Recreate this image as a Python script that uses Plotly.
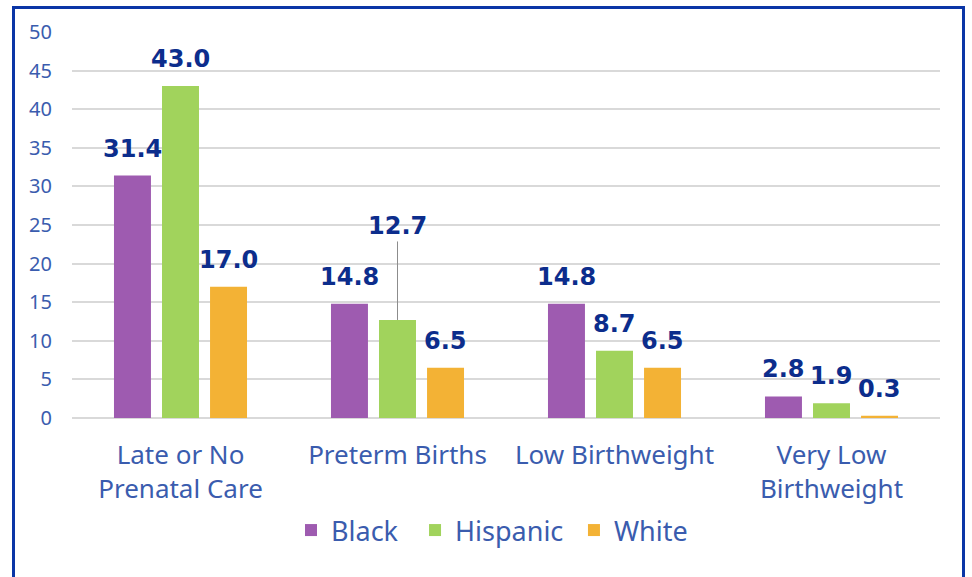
import plotly.graph_objects as go

categories = ["Late or No<br>Prenatal Care", "Preterm Births", "Low Birthweight", "Very Low<br>Birthweight"]
series_names = ["Black", "Hispanic", "White"]
black = [31.4, 14.8, 14.8, 2.8]
hispanic = [43.0, 12.7, 8.7, 1.9]
white = [17.0, 6.5, 6.5, 0.3]
y_ticks = [0, 5, 10, 15, 20, 25, 30, 35, 40, 45, 50]

colors = ["#9e5bb0", "#a1d35c", "#f3b235"]
values = [black, hispanic, white]
label_color = "#0c2d8c"
axis_text = "#3a5cae"
label_font = dict(family="DejaVu Sans, Verdana", size=24, color=label_color)

legend_ids = ["legend", "legend2", "legend3"]
legend_x = [0.2523, 0.3952, 0.5783]

fig = go.Figure()
for name, vals, col, lid in zip(series_names, values, colors, legend_ids):
    fig.add_trace(go.Bar(name=name, x=categories, y=vals, legend=lid,
                         marker=dict(color=col, line=dict(width=0))))

# data labels
shifts = [-48, 0, 48]
for si, vals in enumerate(values):
    for ci, v in enumerate(vals):
        if si == 1 and ci == 1:
            fig.add_annotation(x=categories[ci], y=v, text=f"<b>{v:.1f}</b>", showarrow=True,
                               arrowhead=0, arrowwidth=1, arrowcolor="#8c8c8c",
                               ax=0, ay=-94, xshift=shifts[si], font=label_font)
        else:
            fig.add_annotation(x=categories[ci], y=v, text=f"<b>{v:.1f}</b>", showarrow=False,
                               yanchor="middle", yshift=27, xshift=shifts[si], font=label_font)

# border frame
fig.add_shape(type="rect", xref="paper", yref="paper",
              x0=(13.5 - 72) / 868, x1=(963.5 - 72) / 868,
              y0=-0.6, y1=(418 - 7.5) / 386,
              line=dict(color="#0a35a6", width=3), fillcolor="rgba(0,0,0,0)", layer="above")

legend_common = dict(orientation="h", y=-0.228, yanchor="top", xanchor="left",
                     font=dict(size=27, color=axis_text), itemwidth=30,
                     bgcolor="rgba(0,0,0,0)")

fig.update_layout(
    width=972, height=577,
    margin=dict(l=72, r=32, t=32, b=159),
    barmode="group", bargap=0.336, bargroupgap=0.23,
    plot_bgcolor="white", paper_bgcolor="white",
    font=dict(family="Noto Sans, sans-serif", color=axis_text),
    showlegend=True,
    legend=dict(x=legend_x[0], **legend_common),
    legend2=dict(x=legend_x[1], **legend_common),
    legend3=dict(x=legend_x[2], **legend_common),
    xaxis=dict(tickfont=dict(size=26, color=axis_text), showline=False, ticks="", showgrid=False,
               ticklabelstandoff=19),
    yaxis=dict(range=[0, 50], tickvals=y_ticks, tickfont=dict(size=20, color=axis_text),
               showgrid=True, gridcolor="#d9d9d9", gridwidth=2, zeroline=True,
               zerolinecolor="#d9d9d9", zerolinewidth=2, ticks="", ticklabelstandoff=19),
)

fig.write_html("out.html", config={"displayModeBar": False},
               post_script="document.body.style.margin='0px';")
